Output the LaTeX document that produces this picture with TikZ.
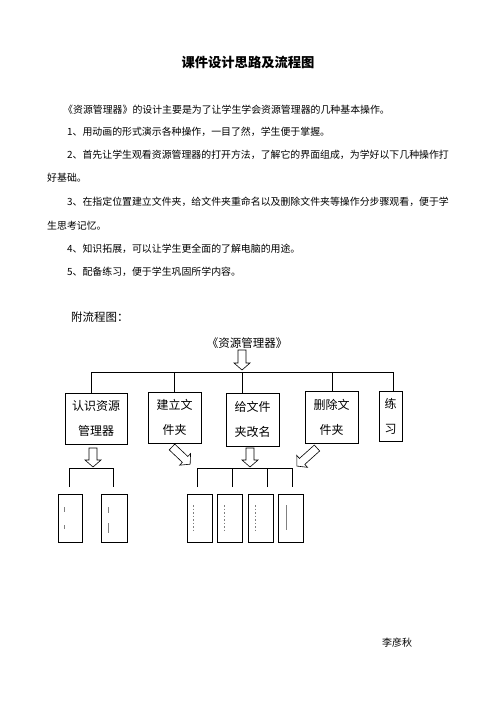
\documentclass[tikz,border=0pt]{standalone}
\usepackage{fontspec}
\setmainfont{Noto Sans CJK SC}
\newcommand\blockarr[4]{%
  \begin{scope}[shift={(#1,#2)},rotate=#3]
    \draw[line width=0.6pt,fill=white] (0,4) -- (#4-7,4) -- (#4-7,8) -- (#4,0) -- (#4-7,-8) -- (#4-7,-4) -- (0,-4) -- cycle;
  \end{scope}}
\begin{document}
\begin{tikzpicture}[x=1pt,y=-1pt,
  box/.style={draw,line width=0.8pt,inner sep=0pt,align=center,font=\fontsize{12}{25}\selectfont},
  smallbox/.style={draw,line width=0.8pt,inner sep=0pt,minimum width=25pt,minimum height=48pt},
  ln/.style={line width=0.8pt},
  para/.style={anchor=west,inner sep=0pt,font=\fontsize{9.9}{12}\selectfont},
  tick/.style={gray,line width=0.6pt,dash pattern=on 1.5pt off 2pt}]
\useasboundingbox (0,0) rectangle (496,702);
\fill[white] (0,0) rectangle (496,702);

% title and paragraphs
\node[inner sep=0pt,font=\fontsize{13.3}{15}\selectfont\bfseries] (title) at (248,62) {课件设计思路及流程图};
\node[para] (p1) at (63,110) {《资源管理器》的设计主要是为了让学生学会资源管理器的几种基本操作。};
\node[para] (p2) at (67,132) {1、用动画的形式演示各种操作，一目了然，学生便于掌握。};
\node[para] (p3) at (67,155) {2、首先让学生观看资源管理器的打开方法，了解它的界面组成，为学好以下几种操作打};
\node[para] (p4) at (47,178) {好基础。};
\node[para] (p5) at (67,202) {3、在指定位置建立文件夹，给文件夹重命名以及删除文件夹等操作分步骤观看，便于学};
\node[para] (p6) at (47,226) {生思考记忆。};
\node[para] (p7) at (67,249) {4、知识拓展，可以让学生更全面的了解电脑的用途。};
\node[para] (p8) at (67,272) {5、配备练习，便于学生巩固所学内容。};

% flowchart
\node[anchor=west,inner sep=0pt,font=\fontsize{11.5}{13}\selectfont] (fl) at (71,317) {附流程图：};
\node[inner sep=0pt,font=\fontsize{11.5}{13}\selectfont] (root) at (247,343) {《资源管理器》};
\blockarr{242}{350}{-90}{20}

\node[box,minimum width=62pt,minimum height=51pt] (b1) at (96,418.5) {认识资源\\管理器};
\node[box,minimum width=53pt,minimum height=51pt] (b2) at (174.5,417.5) {建立文\\件夹};
\node[box,minimum width=53pt,minimum height=53pt] (b3) at (252.5,419.5) {给文件\\夹改名};
\node[box,minimum width=53pt,minimum height=52pt] (b4) at (331.5,417) {删除文\\件夹};
\node[box,minimum width=23pt,minimum height=50pt] (b5) at (390.5,416) {练\\习};

\coordinate (d1) at (91,372);
\coordinate (d2) at (174,372);
\coordinate (d3) at (242,372);
\coordinate (d4) at (332,372);
\coordinate (d5) at (393,372);
\draw[ln] (d1) -- (d5);
\draw[ln] (d1) -- (d1 |- b1.north);
\draw[ln] (d2) -- (d2 |- b2.north);
\draw[ln] (d3) -- (d3 |- b3.north);
\draw[ln] (d4) -- (d4 |- b4.north);
\draw[ln] (d5) -- (d5 |- b5.north);

\blockarr{93}{448}{-90}{19}
\blockarr{172}{447}{-43.4}{25}
\blockarr{250}{448}{-90}{19}
\blockarr{317}{448}{-138}{27}

% lower brackets
\coordinate (la) at (69,487);
\coordinate (lb) at (113,487);
\draw[ln] (la) -- ++(0,-19) -| (lb);
\coordinate (ra) at (197,487);
\coordinate (rb) at (232,487);
\coordinate (rc) at (267,487);
\coordinate (rd) at (292,487);
\draw[ln] (ra) -- ++(0,-19) -| (rd);
\draw[ln] (rb) -- ++(0,-19);
\draw[ln] (rc) -- ++(0,-19);

% small boxes
\node[smallbox,minimum width=24pt] (sa) at (70,518) {};
\node[smallbox,minimum width=26pt] (sb) at (114,518) {};
\node[smallbox] (sc) at (199.5,518) {};
\node[smallbox] (sd) at (229.5,518) {};
\node[smallbox] (se) at (260.5,518) {};
\node[smallbox] (sf) at (290.5,518) {};

\draw[gray,line width=0.6pt] (64,507) -- (64,512) (64,525) -- (64,529);
\draw[gray,line width=0.6pt] (108,507) -- (108,513) (108,523) -- (108,533);
\draw[tick] (193,505) -- (193,530);
\draw[tick] (224,505) -- (224,530);
\draw[tick] (255,505) -- (255,530);
\draw[gray,line width=0.6pt] (286,505) -- (286,530);

\node[inner sep=0pt,font=\fontsize{10}{12}\selectfont] (author) at (397,643) {李彦秋};
\end{tikzpicture}
\end{document}
